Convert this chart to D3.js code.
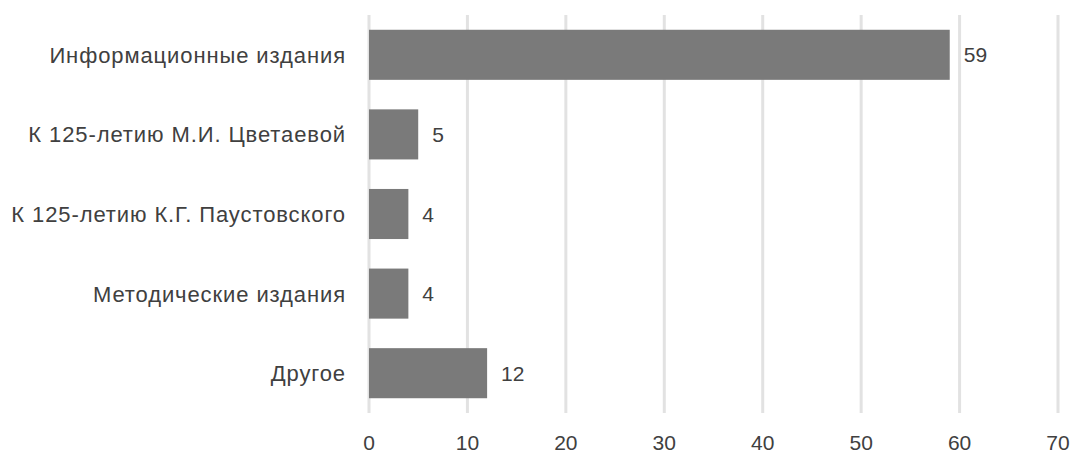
<!DOCTYPE html>
<html><head><meta charset="utf-8">
<script src="https://cdn.jsdelivr.net/npm/d3@7"></script>
<style>
html,body{margin:0;padding:0;background:#fff;}
text{font-family:"Liberation Sans",Arial,sans-serif;fill:#404040;}
</style></head>
<body><svg id="c" width="1073" height="457"></svg>
<script>
const categories = ["Информационные издания","К 125-летию М.И. Цветаевой","К 125-летию К.Г. Паустовского","Методические издания","Другое"];
const values = [59,5,4,4,12];
const ticks = [0,10,20,30,40,50,60,70];

const svg = d3.select("#c");
const x = d3.scaleLinear().domain([0,70]).range([369,1058]);
const y = d3.scaleBand().domain(categories).range([15,413]).paddingInner(0.371).paddingOuter(0.1855);

svg.append("g").selectAll("line").data(ticks).join("line")
  .attr("x1",d=>x(d)).attr("x2",d=>x(d)).attr("y1",15).attr("y2",413)
  .attr("stroke","#e2e2e2").attr("stroke-width",3);

svg.append("g").selectAll("rect").data(values).join("rect")
  .attr("x",x(0)).attr("y",(d,i)=>y(categories[i]))
  .attr("width",d=>x(d)-x(0)).attr("height",y.bandwidth())
  .attr("fill","#7a7a7a");

svg.append("g").selectAll("text").data(values).join("text")
  .attr("x",d=>x(d)+14).attr("y",(d,i)=>y(categories[i])+y.bandwidth()/2)
  .attr("dy","0.36em").attr("font-size",21).text(d=>d);

svg.append("g").selectAll("text").data(categories).join("text")
  .attr("x",346).attr("y",d=>y(d)+y.bandwidth()/2).attr("dy","0.36em")
  .attr("text-anchor","end").attr("font-size",22).attr("letter-spacing","0.9px").text(d=>d);

svg.append("g").selectAll("text").data(ticks).join("text")
  .attr("x",d=>x(d)).attr("y",442).attr("dy","0.36em")
  .attr("text-anchor","middle").attr("font-size",21).text(d=>d);
</script></body></html>
